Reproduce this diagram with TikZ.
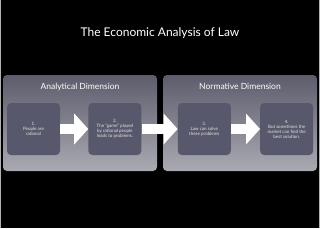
\documentclass[tikz,border=0pt]{standalone}
\usepackage{fontspec}
\setmainfont{Lato}
\usetikzlibrary{positioning,arrows.meta}
\definecolor{grptop}{RGB}{92,92,108}
\definecolor{grpbot}{RGB}{170,170,178}
\definecolor{stepfill}{RGB}{88,88,108}
\begin{document}
\begin{tikzpicture}[x=1pt, y=-1pt, node distance=28pt,
    grp/.style={rounded corners=4pt, top color=grptop, bottom color=grpbot, minimum width=154pt, minimum height=96pt, inner sep=0pt},
    grptitle/.style={text=white, inner sep=0pt, font=\fontsize{8.5}{10}\selectfont},
    stepbox/.style={rounded corners=4pt, fill=stepfill, minimum width=53pt, minimum height=52pt, align=center, text=white!90!black, font=\fontsize{4.5}{5}\selectfont},
    flow/.style={draw=white, line width=10pt, -{Triangle[width=31pt, length=14pt, line width=0pt]}}]
        % 背景
        \useasboundingbox[fill=black] (0,0) rectangle (320,228);
        \draw[gray!60, line width=0.8pt] (0.4,0) -- (0.4,228);
        \draw[gray!60, line width=0.8pt] (319.6,0) -- (319.6,228);

        % 标题
        \node[text=white, font=\fontsize{12}{14}\selectfont] (title) at (160,33) {The Economic Analysis of Law};

        % 两个维度
        \node[grp] (g1) at (80,123) {};
        \node[grp] (g2) at (240,123) {};
        \node[grptitle, below=8pt of g1.north] (t1) {Analytical Dimension};
        \node[grptitle, below=8pt of g2.north] (t2) {Normative Dimension};

        % 四个步骤
        \node[stepbox] (b1) at (33.5,129) {1.\\People are\\rational};
        \node[stepbox, right=28pt of b1] (b2) {2.\\The ``game'' played\\by rational people\\leads to problems.};
        \node[stepbox, right=36pt of b2] (b3) {3.\\Law can solve\\these problems};
        \node[stepbox, right=29pt of b3] (b4) {4.\\But sometimes the\\market can find the\\best solution.};

        % 箭头
        \draw[flow] (b1) -- (b2);
        \draw[flow] (b2) -- (b3);
        \draw[flow] (b3) -- (b4);
    \end{tikzpicture}
\end{document}
